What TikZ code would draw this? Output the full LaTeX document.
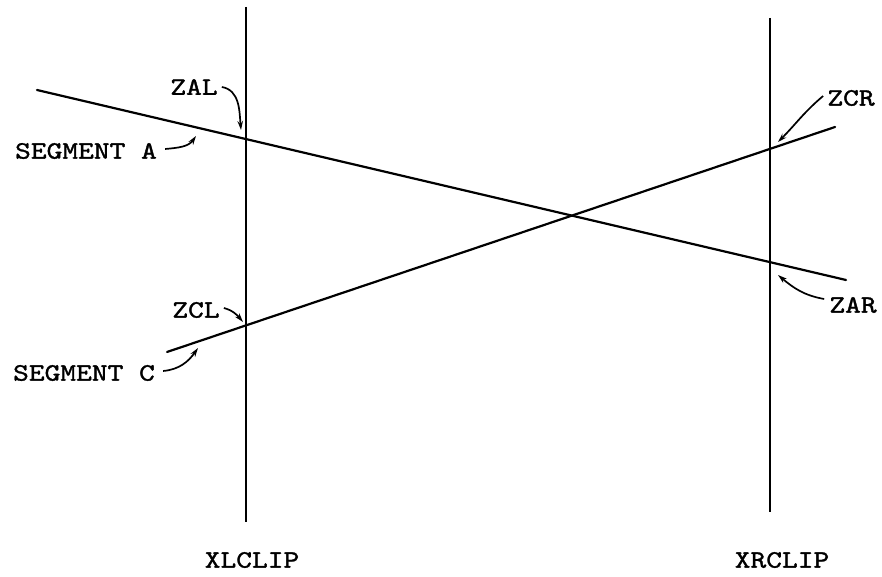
\documentclass[tikz,border=0pt]{standalone}
\usepackage{fontspec}
\newfontfamily\lblfont{lmmono10-regular.otf}[FakeBold=1.2]
\usetikzlibrary{arrows.meta}
\begin{document}
\begin{tikzpicture}[x=1pt,y=1pt,
  lbl/.style={font=\lblfont\fontsize{25}{25}\selectfont, inner sep=0pt, xscale=1.2},
  seg/.style={line width=2.2pt, line cap=round},
  clip line/.style={line width=1.8pt},
  ptr/.style={line width=1.7pt, -{Stealth[length=9pt,width=5.5pt]}}]
\useasboundingbox (0,0) rectangle (882,577);
% clip boundaries
\coordinate (l1) at (246,570);
\coordinate (l2) at (246,55);
\coordinate (r1) at (770,559);
\coordinate (r2) at (770,65);
\draw[clip line] (l1) -- (l2);
\draw[clip line] (r1) -- (r2);
% segments
\coordinate (a1) at (37,487);
\coordinate (a2) at (846,297);
\coordinate (c1) at (167,225);
\coordinate (c2) at (835,450);
\draw[seg] (a1) -- (a2);
\draw[seg] (c1) -- (c2);
% labels
\node[lbl] (zal)  at (194,490) {ZAL};
\node[lbl] (sega) at (86,426)  {SEGMENT A};
\node[lbl] (zcl)  at (196,267) {ZCL};
\node[lbl] (segc) at (84,204)  {SEGMENT C};
\node[lbl] (zar)  at (853,272) {ZAR};
\node[lbl] (zcr)  at (851,479) {ZCR};
\node[lbl] (xl)   at (252,17)  {XLCLIP};
\node[lbl] (xr)   at (782,17)  {XRCLIP};
% arrow tips
\coordinate (tzal) at (241,447);
\coordinate (tsega) at (196,441);
\coordinate (tzcl) at (243,255);
\coordinate (tsegc) at (198,229);
\coordinate (tzar) at (778,302);
\coordinate (tzcr) at (778,435);
\draw[ptr] ([xshift=4pt]zal.east) to[out=-10,in=95] (tzal);
\draw[ptr] ([xshift=8pt,yshift=2pt]sega.east) to[out=5,in=-125] (tsega);
\draw[ptr] ([xshift=4pt,yshift=2pt]zcl.east) to[out=-15,in=130] (tzcl);
\draw[ptr] ([xshift=8pt,yshift=2pt]segc.east) to[out=5,in=-125] (tsegc);
\draw[ptr] ([xshift=-5pt,yshift=6pt]zar.west) to[out=170,in=-40] (tzar);
\draw[ptr] ([xshift=-4pt,yshift=2pt]zcr.west) to[out=-140,in=45] (tzcr);
\end{tikzpicture}
\end{document}
